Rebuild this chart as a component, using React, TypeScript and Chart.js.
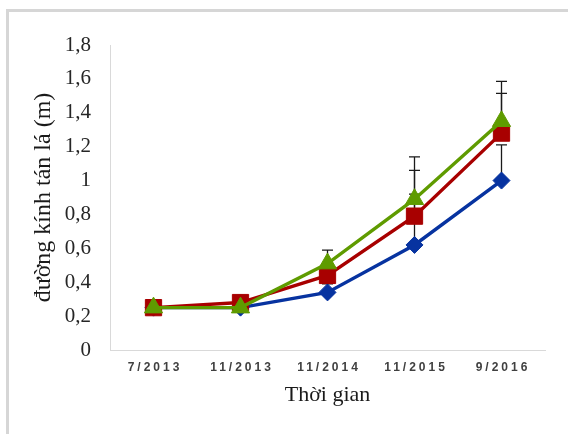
import { useEffect, useRef } from 'react';
import { Chart, registerables } from 'chart.js';

Chart.register(...registerables);

const categories = ['7/2013', '11/2013', '11/2014', '11/2015', '9/2016'];
const blueValues = [0.25, 0.25, 0.34, 0.62, 1.0];
const redValues = [0.25, 0.28, 0.44, 0.79, 1.28];
const greenValues = [0.25, 0.25, 0.51, 0.89, 1.35];
const blueErrors = [0, 0, 0.05, 0.3, 0.21];
const redErrors = [0, 0, 0.05, 0.27, 0.235];
const greenErrors = [0, 0, 0.08, 0.25, 0.235];
const yTickLabels = ['0', '0,2', '0,4', '0,6', '0,8', '1', '1,2', '1,4', '1,6', '1,8'];
const yAxisTitle = 'đường kính tán lá (m)';
const xAxisTitle = 'Thời gian';

const BLUE = '#0733a0';
const RED = '#a80000';
const GREEN = '#5f9b00';

const errorBarPlugin = {
  id: 'errorBars',
  beforeDatasetsDraw(chart: any) {
    const { ctx } = chart;
    const yScale = chart.scales.y;
    ctx.save();
    ctx.strokeStyle = '#1a1a1a';
    ctx.lineWidth = 1.3;
    chart.data.datasets.forEach((ds: any, di: number) => {
      const meta = chart.getDatasetMeta(di);
      const errs: number[] = ds.errorPlus || [];
      meta.data.forEach((pt: any, i: number) => {
        const e = errs[i];
        if (!e) return;
        const v = ds.data[i];
        const x = pt.x;
        const y0 = yScale.getPixelForValue(v);
        const y1 = yScale.getPixelForValue(v + e);
        ctx.beginPath();
        ctx.moveTo(x, y0);
        ctx.lineTo(x, y1);
        ctx.moveTo(x - 5.5, y1);
        ctx.lineTo(x + 5.5, y1);
        ctx.stroke();
      });
    });
    ctx.restore();
  },
};

const letterSpacingPlugin = {
  id: 'xLetterSpacing',
  beforeDraw(chart: any) {
    const s = chart.scales.x;
    if (s && !s.__patched) {
      const orig = s.drawLabels.bind(s);
      s.drawLabels = (area: any) => {
        const ctx = chart.ctx;
        ctx.save();
        (ctx as any).letterSpacing = '3px';
        ctx.translate(1.5, 0);
        orig(area);
        ctx.restore();
      };
      s.__patched = true;
    }
  },
};

export default function App() {
  const ref = useRef<HTMLCanvasElement | null>(null);

  useEffect(() => {
    if (!ref.current) return;
    const chart = new Chart(ref.current, {
      type: 'line',
      data: {
        labels: categories,
        datasets: [
          {
            label: 'blue',
            data: blueValues,
            errorPlus: blueErrors,
            borderColor: BLUE,
            backgroundColor: BLUE,
            borderWidth: 3.4,
            pointStyle: 'rectRot',
            pointRadius: 8.5,
            pointBorderWidth: 1,
            pointBorderColor: BLUE,
            pointBackgroundColor: BLUE,
            order: 3,
          } as any,
          {
            label: 'red',
            data: redValues,
            errorPlus: redErrors,
            borderColor: RED,
            backgroundColor: RED,
            borderWidth: 3.4,
            pointStyle: 'rect',
            pointRadius: 11.5,
            pointBorderWidth: 1,
            pointBorderColor: RED,
            pointBackgroundColor: RED,
            order: 2,
          } as any,
          {
            label: 'green',
            data: greenValues,
            errorPlus: greenErrors,
            borderColor: GREEN,
            backgroundColor: GREEN,
            borderWidth: 3.4,
            pointStyle: 'triangle',
            pointRadius: 10.5,
            pointBorderWidth: 1,
            pointBorderColor: GREEN,
            pointBackgroundColor: GREEN,
            order: 1,
          } as any,
        ],
      },
      options: {
        responsive: false,
        animation: false,
        layout: { padding: { left: 0, right: 23, top: 45, bottom: 0 } },
        plugins: {
          legend: { display: false },
          tooltip: { enabled: false },
        },
        scales: {
          x: {
            offset: true,
            grid: { display: false, drawTicks: false },
            border: { display: true, color: '#d9d9d9', width: 1 },
            ticks: {
              autoSkip: false,
              maxRotation: 0,
              minRotation: 0,
              padding: 10,
              color: '#404040',
              font: { family: "'Liberation Sans', Arial, sans-serif", size: 12, weight: 'bold' },
            },
            title: {
              display: true,
              text: xAxisTitle,
              color: '#1a1a1a',
              padding: { top: 0, bottom: 26 },
              font: { family: "'Liberation Serif', serif", size: 22 },
            },
            afterFit(scale: any) {
              scale.height = 84;
            },
          },
          y: {
            min: 0,
            max: 1.8,
            grid: { display: false, drawTicks: false },
            border: { display: true, color: '#d9d9d9', width: 1 },
            ticks: {
              stepSize: 0.2,
              padding: 19,
              color: '#262626',
              font: { family: "'Liberation Serif', serif", size: 21 },
              callback: (_v: any, i: number) => yTickLabels[i],
            },
            title: {
              display: true,
              text: yAxisTitle,
              color: '#1a1a1a',
              padding: { top: 29, bottom: 0 },
              font: { family: "'Liberation Serif', serif", size: 24 },
            },
            afterFit(scale: any) {
              scale.width = 110;
            },
          },
        },
      } as any,
      plugins: [errorBarPlugin, letterSpacingPlugin],
    });
    return () => chart.destroy();
  }, []);

  return (
    <div style={{ position: 'fixed', left: 0, top: 0, width: 568, height: 434, background: '#ffffff' }}>
      <div
        style={{
          position: 'absolute',
          left: 6,
          top: 9,
          width: 562,
          height: 425,
          borderLeft: '3px solid #d6d6d6',
          borderTop: '3px solid #d6d6d6',
          boxSizing: 'border-box',
        }}
      />
      <canvas ref={ref} width={568} height={434} style={{ position: 'absolute', left: 0, top: 0 }} />
    </div>
  );
}
